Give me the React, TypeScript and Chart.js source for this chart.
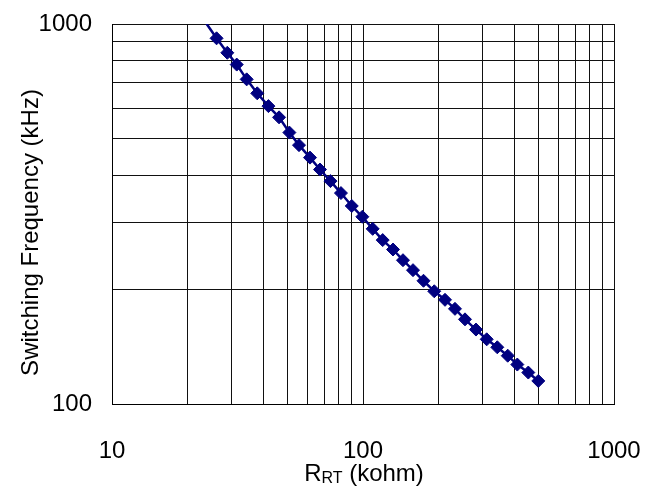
import React, { useEffect, useRef } from 'react';
import { Chart, registerables } from 'chart.js';

Chart.register(...registerables);

// Resistance R_RT (kohm) for each measured point
const R_KOHM = [
  26.1, 28.8, 31.4, 34.4, 37.9, 42.0, 46.3, 50.9, 55.6, 61.5, 67.4, 74.2, 81.7, 90.2, 99.4, 109.3,
  119.8, 131.7, 144.3, 158.2, 174.2, 192.3, 212.2, 232.5, 254.9, 281.9, 311.1, 342.8, 377.2, 411.9,
  455.6, 499.4,
];
// Switching frequency (kHz) for each measured point
const F_KHZ = [
  917, 840, 782, 715, 657, 608, 568, 518, 480, 445, 414, 386, 359, 332, 311, 289,
  270, 255, 239, 225, 211, 198, 188, 178, 167, 157, 148, 141, 134, 127,
  121, 115,
];
// Start of the connecting line (runs off the top of the plot)
const LINE_START_R = [23.8];
const LINE_START_F = [1002];

const X_TICKS = [10, 20, 30, 40, 50, 60, 70, 80, 90, 100, 200, 300, 400, 500, 600, 700, 800, 900, 1000];
const Y_TICKS = [100, 200, 300, 400, 500, 600, 700, 800, 900, 1000];
const X_LABELED = [10, 100, 1000];
const Y_LABELED = [100, 1000];

const Y_TITLE = 'Switching Frequency (kHz)';
const X_TITLE_MAIN = 'R';
const X_TITLE_SUB = 'RT';
const X_TITLE_REST = ' (kohm)';

const FONT = '"Liberation Sans", Arial, sans-serif';
const NAVY = '#000080';

export default function App() {
  const ref = useRef<HTMLCanvasElement | null>(null);

  useEffect(() => {
    const canvas = ref.current;
    if (!canvas) return;

    const points = R_KOHM.map((r, i) => ({ x: r, y: F_KHZ[i] }));
    const linePts = [
      ...LINE_START_R.map((r, i) => ({ x: r, y: LINE_START_F[i] })),
      ...points,
    ];

    const titlePlugin = {
      id: 'axisTitles',
      afterDraw(chart: any) {
        const ctx = chart.ctx as CanvasRenderingContext2D;
        const area = chart.chartArea;
        ctx.save();
        ctx.fillStyle = '#000';
        ctx.font = `24px ${FONT}`;
        ctx.textAlign = 'center';
        ctx.textBaseline = 'middle';
        ctx.translate(31, 232.5);
        ctx.rotate(-Math.PI / 2);
        ctx.fillText(Y_TITLE, 0, 0);
        ctx.restore();

        ctx.save();
        ctx.fillStyle = '#000';
        ctx.textBaseline = 'alphabetic';
        ctx.textAlign = 'left';
        const mainFont = `24px ${FONT}`;
        const subFont = `16px ${FONT}`;
        ctx.font = mainFont;
        const w1 = ctx.measureText(X_TITLE_MAIN).width;
        const w3 = ctx.measureText(X_TITLE_REST).width;
        ctx.font = subFont;
        const w2 = ctx.measureText(X_TITLE_SUB).width;
        const total = w1 + w2 + w3;
        const cx = (area.left + area.right) / 2 + 1;
        const baseY = 481;
        let x = cx - total / 2;
        ctx.font = mainFont;
        ctx.fillText(X_TITLE_MAIN, x, baseY);
        x += w1;
        ctx.font = subFont;
        ctx.fillText(X_TITLE_SUB, x, baseY + 2);
        x += w2;
        ctx.font = mainFont;
        ctx.fillText(X_TITLE_REST, x, baseY);
        ctx.restore();
      },
    };

    const chart = new Chart(canvas, {
      type: 'scatter',
      data: {
        datasets: [
          {
            label: 'points',
            data: points,
            showLine: false,
            pointStyle: 'rectRot',
            pointRadius: 6.5,
            pointHoverRadius: 6.5,
            pointBackgroundColor: NAVY,
            pointBorderColor: NAVY,
            pointBorderWidth: 1,
          },
          {
            label: 'line',
            data: linePts,
            showLine: true,
            borderColor: NAVY,
            borderWidth: 2.5,
            pointRadius: 0,
            pointHoverRadius: 0,
            tension: 0,
          },
        ],
      },
      options: {
        animation: false,
        responsive: false,
        devicePixelRatio: 1,
        layout: { padding: { top: 24, right: 43, left: 0, bottom: 0 } },
        plugins: {
          legend: { display: false },
          tooltip: { enabled: false },
        },
        scales: {
          x: {
            type: 'logarithmic',
            min: 10,
            max: 1000,
            afterBuildTicks: (s: any) => {
              s.ticks = X_TICKS.map((v) => ({ value: v }));
            },
            afterFit: (s: any) => {
              s.height = 82;
              s.paddingLeft = 0;
              s.paddingRight = 0;
            },
            ticks: {
              autoSkip: false,
              maxRotation: 0,
              minRotation: 0,
              padding: 33,
              color: '#000',
              font: { family: FONT, size: 24 },
              callback: (v: any) => (X_LABELED.includes(Number(v)) ? String(v) : ''),
            },
            grid: { color: '#111', lineWidth: 1, drawTicks: false },
            border: { color: '#000', width: 1 },
            title: { display: false },
          },
          y: {
            type: 'logarithmic',
            min: 100,
            max: 1000,
            afterBuildTicks: (s: any) => {
              s.ticks = Y_TICKS.map((v) => ({ value: v }));
            },
            afterFit: (s: any) => {
              s.width = 112;
              s.paddingTop = 0;
              s.paddingBottom = 0;
            },
            ticks: {
              autoSkip: false,
              padding: 20,
              color: '#000',
              font: { family: FONT, size: 24 },
              callback: (v: any) => (Y_LABELED.includes(Number(v)) ? String(v) : ''),
            },
            grid: { color: '#111', lineWidth: 1, drawTicks: false },
            border: { color: '#000', width: 1 },
            title: { display: false },
          },
        },
      } as any,
      plugins: [titlePlugin],
    });

    return () => chart.destroy();
  }, []);

  return (
    <div style={{ position: 'absolute', left: 0, top: 0, width: 657, height: 486, background: '#fff' }}>
      <canvas ref={ref} width={657} height={486} style={{ display: 'block' }} />
    </div>
  );
}
